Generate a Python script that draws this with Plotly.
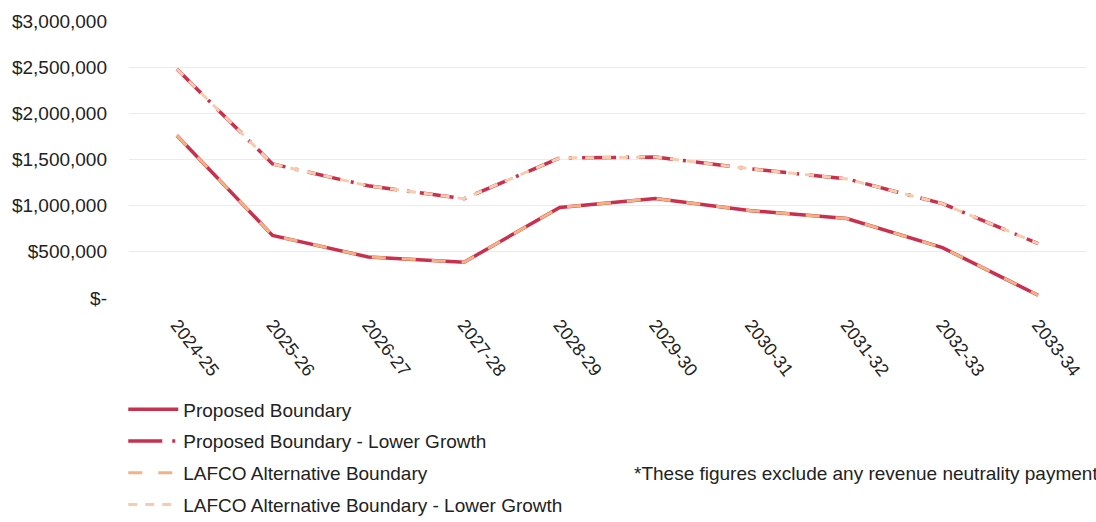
import plotly.graph_objects as go

years = ["2024-25", "2025-26", "2026-27", "2027-28", "2028-29",
         "2029-30", "2030-31", "2031-32", "2032-33", "2033-34"]

proposed = [1760000, 677000, 445000, 387000, 980000, 1078000, 946000, 860000, 545000, 30000]
proposed_lower = [2480000, 1452000, 1215000, 1075000, 1516000, 1527000, 1398000, 1290000, 1022000, 590000]
lafco = [1760000, 677000, 445000, 387000, 980000, 1078000, 946000, 860000, 545000, 30000]
lafco_lower = [2480000, 1452000, 1215000, 1075000, 1516000, 1527000, 1398000, 1290000, 1022000, 590000]

y_tickvals = [0, 500000, 1000000, 1500000, 2000000, 2500000, 3000000]
y_ticktext = ["$-", "$500,000", "$1,000,000", "$1,500,000", "$2,000,000", "$2,500,000", "$3,000,000"]

crimson = "#C8304E"
peach = "#F4B183"
peach_light = "#F8CBAD"

fig = go.Figure()
fig.add_trace(go.Scatter(x=years, y=proposed, mode="lines", name="Proposed Boundary",
                         line=dict(color=crimson, width=3.5), legendgroup="a"))
fig.add_trace(go.Scatter(x=years, y=proposed_lower, mode="lines", name="Proposed Boundary - Lower Growth",
                         line=dict(color=crimson, width=3.5, dash="34px,10px,3px,10px"), legendgroup="b"))
fig.add_trace(go.Scatter(x=years, y=lafco, mode="lines", name="LAFCO Alternative Boundary",
                         line=dict(color=peach, width=3, dash="14px,16px"), legendgroup="c"))
fig.add_trace(go.Scatter(x=years, y=lafco_lower, mode="lines", name="LAFCO Alternative Boundary - Lower Growth",
                         line=dict(color=peach_light, width=3, dash="9px,8px"), legendgroup="d"))

font_family = "Liberation Sans, Arial, sans-serif"

fig.update_layout(
    width=1096, height=522,
    margin=dict(l=129, r=10, t=21, b=224, autoexpand=False),
    paper_bgcolor="white", plot_bgcolor="white",
    font=dict(family=font_family, size=19, color="#222222"),
    showlegend=True,
    legend=dict(x=-0.006, xanchor="left", y=-0.334, yanchor="top",
                orientation="v", font=dict(size=19, color="#222222"),
                tracegroupgap=4, itemwidth=50, bgcolor="rgba(0,0,0,0)"),
    xaxis=dict(type="category", range=[-0.5, 9.5], tickangle=52,
               showgrid=False, showline=False, zeroline=False, ticks="",
               ticklabelstandoff=12, automargin=False,
               tickfont=dict(size=18, color="#222222")),
    yaxis=dict(range=[0, 3000000], tickvals=y_tickvals, ticktext=y_ticktext,
               showgrid=True, gridcolor="#EBEBEB", gridwidth=1, zeroline=False,
               showline=False, ticks="", ticklabelstandoff=21, automargin=False,
               tickfont=dict(size=19, color="#222222")),
    annotations=[dict(text="*These figures exclude any revenue neutrality payments.",
                      xref="paper", yref="paper", x=0.5256, y=-0.632,
                      xanchor="left", yanchor="middle", showarrow=False,
                      font=dict(size=19, color="#222222"))],
)

fig.write_html("out.html")
